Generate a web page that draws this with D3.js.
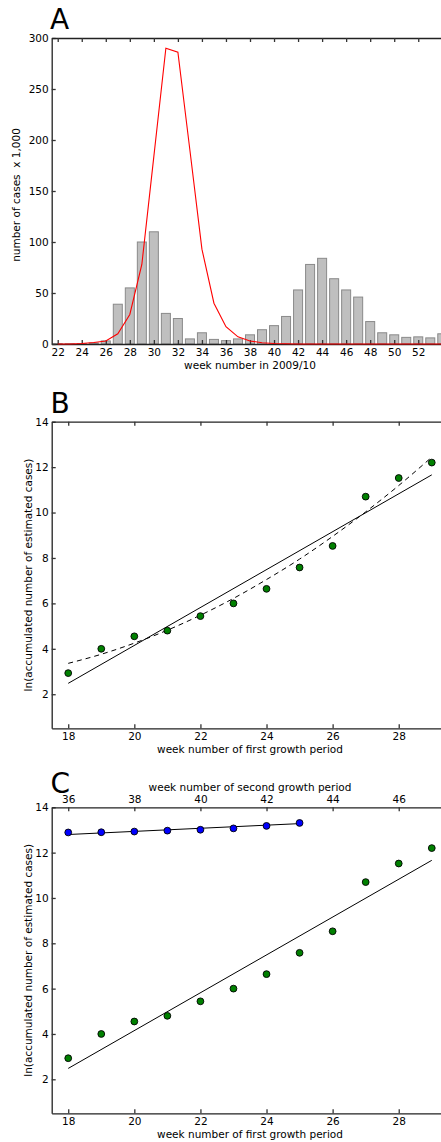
<!DOCTYPE html>
<html>
<head>
<meta charset="utf-8">
<script src="https://cdn.jsdelivr.net/npm/d3@7/dist/d3.min.js"></script>
<style>
  html, body { margin: 0; padding: 0; background: #fff; }
  svg { display: block; }
  text { font-family: "DejaVu Sans", sans-serif; fill: #000; }
</style>
</head>
<body>
<svg id="fig" width="441" height="1142"></svg>
<script>
// ---- Panel A: weekly cases (bars) and model curve (red) ----
const weeksA = [22, 23, 24, 25, 26, 27, 28, 29, 30, 31, 32, 33, 34, 35, 36, 37, 38,
                39, 40, 41, 42, 43, 44, 45, 46, 47, 48, 49, 50, 51, 52, 53, 54];
const reportedCases = [0.3, 0.2, 0.5, 1, 3, 39, 55, 100, 110, 30, 25, 5, 11, 4.5, 3.3,
                       5, 9, 14, 18, 27, 53, 78, 84, 64, 53, 46, 22, 11, 9, 6.5, 7, 6, 10];
const modelCases = [0, 0, 0.5, 1.5, 3, 10, 29, 78, 184, 290, 286, 190, 93, 40, 17, 7, 3,
                    1.2, 0.5, 0.2, 0, 0, 0, 0, 0, 0, 0, 0, 0, 0, 0, 0, 0];
const ticksA_x = [22, 24, 26, 28, 30, 32, 34, 36, 38, 40, 42, 44, 46, 48, 50, 52];
const ticksA_y = [0, 50, 100, 150, 200, 250, 300];

// ---- Panels B and C: ln of accumulated estimated cases ----
const weeksFirst = [18, 19, 20, 21, 22, 23, 24, 25, 26, 27, 28, 29];
const lnFirst = [2.93, 4.0, 4.55, 4.8, 5.44, 6.0, 6.64, 7.58, 8.53, 10.7, 11.52, 12.2];
const quadFitFirst = [3.36, 3.76, 4.25, 4.82, 5.48, 6.22, 7.05, 7.95, 8.95, 10.03, 11.19, 12.44];
const linFitWeeks = [18, 29];
const linFitFirst = [2.48, 11.66];

const weeksSecond = [36, 37, 38, 39, 40, 41, 42, 43];
const lnSecond = [12.89, 12.9, 12.93, 12.97, 13.01, 13.07, 13.18, 13.31];
const linFitWeeksSecond = [36, 43];
const linFitSecond = [12.8, 13.28];

const ticksFirst = [18, 20, 22, 24, 26, 28];
const ticksSecond = [36, 38, 40, 42, 44, 46];
const ticksLn = [2, 4, 6, 8, 10, 12, 14];

const svg = d3.select("#fig");
const FS = 10.5;
const spineColor = "#222";

function styleAxis(g, hideLabels) {
  g.select(".domain").attr("stroke", spineColor).attr("stroke-width", 1.3);
  g.selectAll(".tick line").attr("stroke", "#333").attr("stroke-width", 1.3);
  g.selectAll(".tick text").attr("font-size", FS).attr("fill", "#000")
    .attr("font-family", "DejaVu Sans, sans-serif");
  if (hideLabels) g.selectAll(".tick text").remove();
}

function frame(x, y, opts) {
  const [x0] = x.range();
  const [y0, y1] = y.range(); // y0 bottom, y1 top
  const g = svg.append("g");
  // bottom spine with inward ticks
  const gb = g.append("g").attr("transform", `translate(0,${y0})`)
    .call(d3.axisBottom(x).tickValues(opts.xticks).tickFormat(d3.format("d"))
      .tickSizeInner(-4).tickSizeOuter(0).tickPadding(4.5));
  styleAxis(gb, false);
  // left spine
  const gl = g.append("g").attr("transform", `translate(${x0},0)`)
    .call(d3.axisLeft(y).tickValues(opts.yticks).tickFormat(d3.format("d"))
      .tickSizeInner(-4).tickSizeOuter(0).tickPadding(3));
  styleAxis(gl, false);
  // top spine (own scale when a second x axis is shown)
  const xt = opts.topScale || x;
  const gt = g.append("g").attr("transform", `translate(0,${y1})`)
    .call(d3.axisTop(xt).tickValues(opts.topTicks || opts.xticks).tickFormat(d3.format("d"))
      .tickSizeInner(-4).tickSizeOuter(0).tickPadding(4));
  styleAxis(gt, !opts.topScale);
  return g;
}

function panelLetter(t, x, y) {
  svg.append("text").attr("x", x).attr("y", y).attr("font-size", 28).text(t);
}

// ---------------- Panel A ----------------
{
  const x = d3.scaleLinear().domain([21.5, 54.5]).range([51.7, 448.3]);
  const y = d3.scaleLinear().domain([0, 300]).range([344, 38]);
  const barW = (x(1) - x(0)) * 0.75;

  svg.append("g").selectAll("rect").data(weeksA).join("rect")
    .attr("x", d => x(d) - barW / 2)
    .attr("y", (d, i) => y(reportedCases[i]))
    .attr("width", barW)
    .attr("height", (d, i) => y(0) - y(reportedCases[i]))
    .attr("fill", "#bfbfbf").attr("stroke", "#8a8a8a").attr("stroke-width", 1);

  frame(x, y, { xticks: ticksA_x, yticks: ticksA_y });

  svg.append("path")
    .datum(weeksA.map((w, i) => [w, modelCases[i]]))
    .attr("fill", "none").attr("stroke", "#ff0000").attr("stroke-width", 1.1)
    .attr("d", d3.line().x(d => x(d[0])).y(d => y(d[1])));

  panelLetter("A", 50, 28.5);
  svg.append("text").attr("x", 250).attr("y", 369).attr("text-anchor", "middle")
    .attr("font-size", FS).text("week number in 2009/10");
  svg.append("text").attr("transform", `translate(20,195) rotate(-90)`)
    .attr("text-anchor", "middle").attr("font-size", FS)
    .attr("xml:space", "preserve").text("number of cases  x 1,000");
}

// ---------------- Panels B and C ----------------
function scatterPanel(top, bottom, withSecond, letter, letterY) {
  const x = d3.scaleLinear().domain([17.5, 29.5]).range([51.7, 448.3]);
  const y = d3.scaleLinear().domain([0.5, 14]).range([bottom, top]);
  const xTop = d3.scaleLinear().domain([35.5, 47.5]).range([51.7, 448.3]);

  frame(x, y, withSecond
    ? { xticks: ticksFirst, yticks: ticksLn, topScale: xTop, topTicks: ticksSecond }
    : { xticks: ticksFirst, yticks: ticksLn });

  const line = d3.line().x(d => d[0]).y(d => d[1]);

  // linear fit, first growth period
  svg.append("path")
    .datum(linFitWeeks.map((w, i) => [x(w), y(linFitFirst[i])]))
    .attr("fill", "none").attr("stroke", "#000").attr("stroke-width", 1).attr("d", line);

  if (!withSecond) {
    // quadratic fit, first growth period
    svg.append("path")
      .datum(weeksFirst.map((w, i) => [x(w), y(quadFitFirst[i])]))
      .attr("fill", "none").attr("stroke", "#000").attr("stroke-width", 1)
      .attr("stroke-dasharray", "5,4")
      .attr("d", d3.line().x(d => d[0]).y(d => d[1]).curve(d3.curveMonotoneX));
  }

  svg.append("g").selectAll("circle").data(weeksFirst).join("circle")
    .attr("cx", d => x(d)).attr("cy", (d, i) => y(lnFirst[i])).attr("r", 3.4)
    .attr("fill", "#008000").attr("stroke", "#000").attr("stroke-width", 0.9);

  if (withSecond) {
    svg.append("path")
      .datum(linFitWeeksSecond.map((w, i) => [xTop(w), y(linFitSecond[i])]))
      .attr("fill", "none").attr("stroke", "#000").attr("stroke-width", 1).attr("d", line);
    svg.append("g").selectAll("circle").data(weeksSecond).join("circle")
      .attr("cx", d => xTop(d)).attr("cy", (d, i) => y(lnSecond[i])).attr("r", 3.4)
      .attr("fill", "#0000ff").attr("stroke", "#000").attr("stroke-width", 0.9);
    svg.append("text").attr("x", 250).attr("y", top - 16.5).attr("text-anchor", "middle")
      .attr("font-size", FS).text("week number of second growth period");
  }

  panelLetter(letter, 50.5, letterY);
  svg.append("text").attr("x", 250).attr("y", bottom + 25).attr("text-anchor", "middle")
    .attr("font-size", FS).text("week number of first growth period");
  svg.append("text").attr("transform", `translate(32,${(top + bottom) / 2}) rotate(-90)`)
    .attr("text-anchor", "middle").attr("font-size", FS)
    .text("ln(accumulated number of estimated cases)");
}

scatterPanel(421.7, 728.3, false, "B", 413);
scatterPanel(807.3, 1113.3, true, "C", 793);
</script>
</body>
</html>
